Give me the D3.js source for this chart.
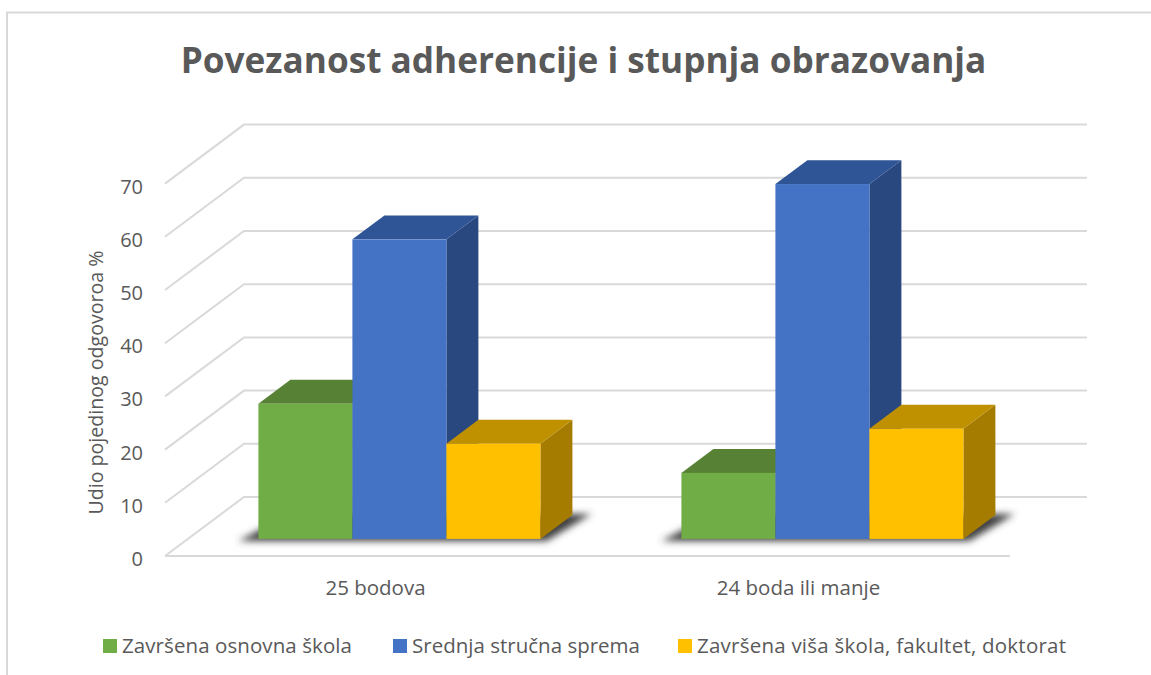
<!DOCTYPE html>
<html>
<head>
<meta charset="utf-8">
<script src="https://d3js.org/d3.v7.min.js"></script>
<style>
  html, body { margin: 0; padding: 0; background: #fff; overflow: hidden; }
  text { font-family: "Open Sans", sans-serif; fill: #595959; }
</style>
</head>
<body>
<svg id="chart" width="1151" height="675"></svg>
<script>
const categories = ['25 bodova', '24 boda ili manje']
const seriesNames = ['Završena osnovna škola', 'Srednja stručna sprema', 'Završena viša škola, fakultet, doktorat']
const osnovna = [25.4, 12.4]
const srednja = [56.3, 66.7]
const visa = [17.9, 20.7]
const yTicks = [0, 10, 20, 30, 40, 50, 60, 70]

const frontColors = ['#70ad47', '#4472c4', '#ffc000']
const topColors = ['#578235', '#2f5597', '#bf9000']
const sideColors = ['#4c7330', '#2a4880', '#a67c00']

const svg = d3.select('#chart')
const seriesValues = [osnovna, srednja, visa]

// floor front edge, and how far the back wall is shifted from it
const floor = { left: 165, right: 1011, y: 556 }
const depth = { dx: 79, dy: -59 }
const barDepth = { start: 0.29, end: 0.695 }
const unit = 5.32

const x0 = d3.scaleBand().domain(categories).range([floor.left, floor.right])
const h = d3.scaleLinear().domain([0, 70]).range([0, 70 * unit])
const yFront = v => floor.y - h(v)

// frame
svg.append('path')
  .attr('d', 'M7,675V12.5H1151')
  .attr('fill', 'none')
  .attr('stroke', '#d9d9d9')
  .attr('stroke-width', 2)

svg.append('text')
  .attr('x', 583.5)
  .attr('y', 73)
  .attr('text-anchor', 'middle')
  .attr('font-weight', 'bold')
  .attr('font-size', 35.2)
  .text('Povezanost adherencije i stupnja obrazovanja')

// grid: wall line plus the diagonal on the side wall
const gridPath = d3.line()
svg.append('g').selectAll('path')
  .data(yTicks)
  .enter()
  .append('path')
  .attr('fill', 'none')
  .attr('stroke', '#d9d9d9')
  .attr('stroke-width', 2)
  .attr('d', d => gridPath([
    [floor.left, yFront(d)],
    [floor.left + depth.dx, yFront(d) + depth.dy],
    [floor.right + depth.dx - 3, yFront(d) + depth.dy]
  ]))

svg.append('line')
  .attr('x1', floor.left)
  .attr('x2', floor.right - 1)
  .attr('y1', floor.y)
  .attr('y2', floor.y)
  .attr('stroke', '#d9d9d9')
  .attr('stroke-width', 2)

const defs = svg.append('defs')
defs.append('filter')
  .attr('id', 'soft')
  .attr('x', '-10%').attr('y', '-30%').attr('width', '120%').attr('height', '160%')
  .append('feGaussianBlur')
  .attr('stdDeviation', 3.5)

const barsW = x0.bandwidth() * 2 / 3
const x1 = d3.scaleBand().domain(d3.range(seriesNames.length)).range([0, barsW])
const groupX = c => x0(c) + (x0.bandwidth() - barsW) / 2 + barDepth.start * depth.dx
const baseY = floor.y + barDepth.start * depth.dy
const bdx = (barDepth.end - barDepth.start) * depth.dx
const bdy = (barDepth.end - barDepth.start) * depth.dy

const poly = pts => d3.line()(pts) + 'Z'

const groups = svg.append('g').selectAll('g')
  .data(categories)
  .enter()
  .append('g')

// shadow on the floor
groups.append('path')
  .attr('fill', '#404040')
  .attr('filter', 'url(#soft)')
  .attr('d', c => {
    const l = groupX(c)
    return poly([
      [l - 20, baseY + 2],
      [l + barsW + 6, baseY + 2],
      [l + barsW + bdx + 19, baseY + bdy - 1],
      [l + bdx, baseY + bdy - 1]
    ])
  })

groups.each(function (c, ci) {
  const g = d3.select(this)
  seriesValues.forEach((vals, si) => {
    const l = groupX(c) + x1(si)
    const r = l + x1.bandwidth()
    const bottom = baseY
    const top = baseY - h(vals[ci])

    g.append('path').attr('fill', sideColors[si])
      .attr('d', poly([[r, bottom], [r + bdx, bottom + bdy], [r + bdx, top + bdy], [r, top]]))
    g.append('path').attr('fill', topColors[si])
      .attr('d', poly([[l, top], [r, top], [r + bdx, top + bdy], [l + bdx, top + bdy]]))
    g.append('rect').attr('fill', frontColors[si])
      .attr('x', l).attr('y', top)
      .attr('width', x1.bandwidth()).attr('height', bottom - top)
  })
})

// y axis labels, no line or ticks
const yAxisScale = d3.scaleLinear().domain([0, 70]).range([floor.y, yFront(70)])
const yAxis = svg.append('g')
  .attr('transform', 'translate(143,3)')
  .call(d3.axisLeft(yAxisScale).tickValues(yTicks).tickSize(0).tickPadding(0))
yAxis.select('.domain').remove()
yAxis.selectAll('text').attr('font-size', 20).style('font-family', '"Open Sans", sans-serif').style('fill', '#595959')

svg.append('text')
  .attr('transform', 'translate(103,382.5) rotate(-90)')
  .attr('text-anchor', 'middle')
  .attr('font-size', 19.6)
  .text('Udio pojedinog odgovoroa %')

// category labels
svg.append('g').selectAll('text')
  .data(categories)
  .enter()
  .append('text')
  .attr('x', c => x0(c) + x0.bandwidth() / 2 - 1)
  .attr('y', 595)
  .attr('text-anchor', 'middle')
  .attr('font-size', 20.5)
  .text(c => c)

// legend
const legendX = d3.scaleOrdinal().domain(seriesNames).range([103, 393, 678])
const legendW = d3.scaleOrdinal().domain(seriesNames).range([230, 228, 369])
const legend = svg.append('g').selectAll('g')
  .data(seriesNames)
  .enter()
  .append('g')
  .attr('transform', d => `translate(${legendX(d)},639)`)
legend.append('rect')
  .attr('width', 14)
  .attr('height', 14)
  .attr('fill', (d, i) => frontColors[i])
legend.append('text')
  .attr('x', 19)
  .attr('y', 14)
  .attr('font-size', 20.5)
  .attr('textLength', d => legendW(d))
  .text(d => d)
</script>
</body>
</html>
